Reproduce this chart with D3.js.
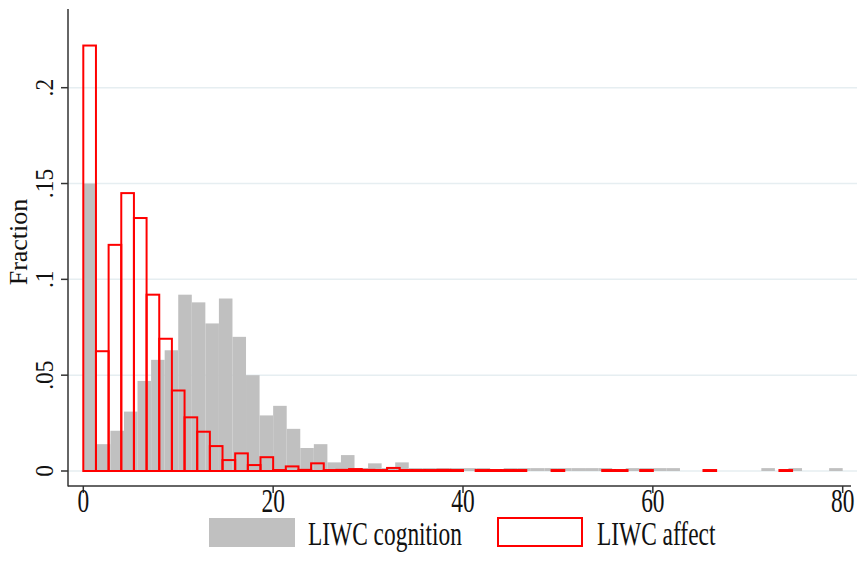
<!DOCTYPE html>
<html>
<head>
<meta charset="utf-8">
<script src="https://cdn.jsdelivr.net/npm/d3@7"></script>
<style>
  body { margin: 0; background: #fff; }
  text { font-family: "Liberation Serif", "DejaVu Serif", serif; fill: #111; }
</style>
</head>
<body>
<div id="chart"></div>
<script>
// histogram bins, fraction per bin
var cogBinWidth = 10 / 7;   // LIWC cognition: 56 bins on 0..80
var affBinWidth = 4 / 3;    // LIWC affect: 60 bins on 0..80

var cognition = [
  0.150, 0.014, 0.021, 0.031, 0.047, 0.058, 0.063, 0.092, 0.088, 0.077,
  0.090, 0.070, 0.050, 0.029, 0.034, 0.022, 0.012, 0.014, 0.0045, 0.0083,
  0.0015, 0.004, 0.0015, 0.0045, 0.0015, 0.0015, 0.0015, 0.0015, 0.0015, 0.0015,
  0, 0.0015, 0.0015, 0.0015, 0.0015, 0.0015, 0.0015, 0.0015, 0.0015, 0,
  0.0015, 0.0015, 0.0015, 0.0015, 0, 0, 0, 0, 0, 0,
  0.0015, 0, 0.0015, 0, 0, 0.0015
];

var affect = [
  0.222, 0.0625, 0.118, 0.145, 0.132, 0.092, 0.069, 0.042, 0.028, 0.0205,
  0.013, 0.0057, 0.0092, 0.0031, 0.0072, 0.0005, 0.0024, 0.0006, 0.004, 0.0005,
  0.0006, 0.001, 0.0006, 0.0005, 0.0016, 0.0005, 0.0005, 0.0005, 0.0006, 0.0005,
  0, 0.0005, 0.0005, 0.0005, 0.0005, 0, 0, 0.0005, 0, 0,
  0, 0.0005, 0.0005, 0, 0.0005, 0, 0, 0, 0, 0.0005,
  0, 0, 0, 0, 0, 0.0005, 0, 0, 0, 0
];

var xTicks = [0, 20, 40, 60, 80];
var yTicks = [0, 0.05, 0.1, 0.15, 0.2];
var yTickLabels = ["0", ".05", ".1", ".15", ".2"];
var seriesNames = ["LIWC cognition", "LIWC affect"];

var W = 857, H = 575;
var FS = 26, SQ = 0.9, ST = 1.27;   // font size, horizontal squeeze, vertical stretch

var svg = d3.select("#chart").append("svg")
    .attr("width", W)
    .attr("height", H);

var x = d3.scaleLinear().domain([0, 80]).range([83.3, 842.7]);
var y = d3.scaleLinear().domain([0, 0.2]).range([471, 87.7]);

var axisX = 68, axisY = 486;

// gridlines
svg.append("g")
  .selectAll("line")
  .data(yTicks)
  .enter()
  .append("line")
    .attr("x1", axisX)
    .attr("x2", W)
    .attr("y1", d => y(d))
    .attr("y2", d => y(d))
    .attr("stroke", "#e6eef1")
    .attr("stroke-width", 1.5);

// gray bars (cognition)
svg.append("g")
  .selectAll("rect")
  .data(cognition.map((v, i) => ({i: i, v: v})).filter(d => d.v > 0))
  .enter()
  .append("rect")
    .attr("x", d => x(d.i * cogBinWidth))
    .attr("width", d => x((d.i + 1) * cogBinWidth) - x(d.i * cogBinWidth))
    .attr("y", d => y(d.v))
    .attr("height", d => y(0) - y(d.v))
    .attr("fill", "#c0c0c0");

// red outlined bars (affect)
svg.append("g")
  .selectAll("rect")
  .data(affect.map((v, i) => ({i: i, v: v})).filter(d => d.v > 0))
  .enter()
  .append("rect")
    .attr("x", d => x(d.i * affBinWidth))
    .attr("width", d => x((d.i + 1) * affBinWidth) - x(d.i * affBinWidth))
    .attr("y", d => y(d.v))
    .attr("height", d => y(0) - y(d.v))
    .attr("fill", "none")
    .attr("stroke", "#ff0000")
    .attr("stroke-width", 2);

// axes lines
svg.append("line")
    .attr("x1", axisX).attr("x2", axisX)
    .attr("y1", 9).attr("y2", axisY + 0.5)
    .attr("stroke", "#333").attr("stroke-width", 1.5);
svg.append("line")
    .attr("x1", axisX).attr("x2", 851)
    .attr("y1", axisY).attr("y2", axisY)
    .attr("stroke", "#333").attr("stroke-width", 1.5);

// y ticks + rotated labels
var yg = svg.append("g");
yg.selectAll("line")
  .data(yTicks)
  .enter()
  .append("line")
    .attr("x1", 61).attr("x2", axisX)
    .attr("y1", d => y(d)).attr("y2", d => y(d))
    .attr("stroke", "#333").attr("stroke-width", 1.5);
yg.selectAll("text")
  .data(yTicks)
  .enter()
  .append("text")
    .attr("transform", d => "translate(53," + y(d) + ") rotate(-90) scale(" + SQ + ",1)")
    .attr("text-anchor", "middle")
    .style("font-size", FS + "px")
    .text((d, i) => yTickLabels[i]);

// x ticks + labels
var xg = svg.append("g");
xg.selectAll("line")
  .data(xTicks)
  .enter()
  .append("line")
    .attr("x1", d => x(d)).attr("x2", d => x(d))
    .attr("y1", axisY).attr("y2", axisY + 7)
    .attr("stroke", "#333").attr("stroke-width", 1.5);
xg.selectAll("text")
  .data(xTicks)
  .enter()
  .append("text")
    .attr("transform", d => "translate(" + x(d) + ",512) scale(" + SQ + "," + ST + ")")
    .attr("text-anchor", "middle")
    .style("font-size", FS + "px")
    .text(d => d);

// y title
svg.append("text")
    .attr("transform", "translate(27,242) rotate(-90)")
    .attr("text-anchor", "middle")
    .style("font-size", FS + "px")
    .text("Fraction");

// legend
var legend = svg.append("g");
legend.append("rect")
    .attr("x", 209).attr("y", 518).attr("width", 86).attr("height", 29)
    .attr("fill", "#c0c0c0");
legend.append("rect")
    .attr("x", 498).attr("y", 518).attr("width", 84).attr("height", 28)
    .attr("fill", "#fff").attr("stroke", "#ff0000").attr("stroke-width", 2);
legend.selectAll("text")
  .data(seriesNames)
  .enter()
  .append("text")
    .attr("transform", (d, i) => "translate(" + (i == 0 ? 308 : 597) + ",545) scale(" + SQ + "," + ST + ")")
    .style("font-size", FS + "px")
    .text(d => d);
</script>
</body>
</html>
